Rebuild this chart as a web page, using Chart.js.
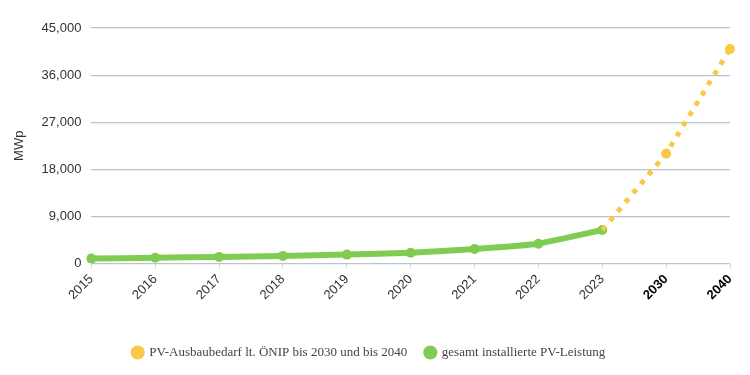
<!DOCTYPE html>
<html>
<head>
<meta charset="utf-8">
<script src="https://cdn.jsdelivr.net/npm/chart.js@4"></script>
<style>
  html, body { margin: 0; padding: 0; background: #fff; }
  #wrap { width: 750px; height: 375px; }
</style>
</head>
<body>
<div id="wrap"><canvas id="graf"></canvas></div>
<script>
const years = ["2015", "2016", "2017", "2018", "2019", "2020", "2021", "2022", "2023", "2030", "2040"];
const installed = [937, 1096, 1269, 1455, 1702, 2043, 2783, 3792, 6395, null, null];
const target = [null, null, null, null, null, null, null, null, 6395, 21000, 41000];
const boldYears = ["2030", "2040"];

const green = "#80cc52";
const yellow = "#f9c846";

const graph = document.getElementById('graf');
new Chart(graph, {
  type: "line",
  data: {
    labels: years,
    datasets: [{
      label: "PV-Ausbaubedarf lt. ÖNIP bis 2030 und bis 2040",
      data: target,
      borderColor: yellow,
      backgroundColor: yellow,
      borderWidth: 5,
      borderDash: [5, 7],
      pointRadius: ctx => ctx.dataIndex < 9 ? 0 : 5,
      pointBorderWidth: 0,
      fill: false
    }, {
      label: "gesamt installierte PV-Leistung",
      data: installed,
      borderColor: green,
      backgroundColor: green,
      borderWidth: 6,
      pointRadius: 5,
      pointBorderWidth: 0,
      lineTension: 0.1,
      fill: false
    }]
  },
  options: {
    responsive: true,
    maintainAspectRatio: false,
    animation: false,
    layout: { padding: { left: 8, right: 20, top: 28, bottom: 6 } },
    plugins: {
      legend: {
        position: "bottom",
        labels: {
          usePointStyle: true,
          pointStyle: "circle",
          boxWidth: 10,
          boxHeight: 10,
          padding: 18,
          color: "#444",
          font: { family: "Liberation Serif", size: 13 }
        }
      },
      tooltip: { enabled: false }
    },
    scales: {
      x: {
        offset: false,
        afterFit: axis => { axis.height += 22 },
        grid: { display: true, drawOnChartArea: false, drawTicks: true, tickLength: 5, color: "#d5dcdc" },
        border: { display: false },
        ticks: {
          maxRotation: 45,
          minRotation: 45,
          autoSkip: false,
          color: ctx => boldYears.includes(years[ctx.index]) ? "#000" : "#333",
          font: ctx => ({
            family: "Liberation Sans",
            size: 13,
            weight: boldYears.includes(years[ctx.index]) ? "bold" : "normal"
          })
        }
      },
      y: {
        min: 0,
        max: 45000,
        grid: { color: "#b9c6c6", lineWidth: 1.2, drawTicks: false },
        border: { display: false },
        ticks: {
          stepSize: 9000,
          padding: 10,
          color: "#333",
          font: { family: "Liberation Sans", size: 13 },
          callback: v => v.toLocaleString("en-US")
        },
        title: {
          display: true,
          text: "MWp",
          color: "#333",
          font: { family: "Liberation Sans", size: 13 }
        }
      }
    }
  }
});
</script>
</body>
</html>
